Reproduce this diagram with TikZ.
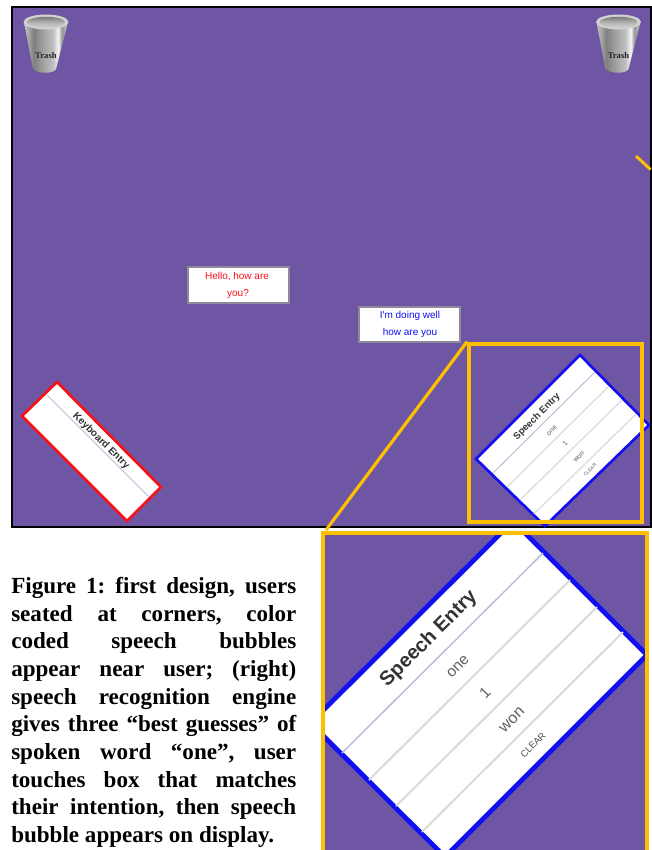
\documentclass[tikz,border=0pt]{standalone}
\usepackage{fontspec}
\setmainfont{Liberation Serif}
\newfontfamily\uisans{Liberation Sans}
\definecolor{panel}{HTML}{6F56A4}
\definecolor{gold}{HTML}{FFC000}
\definecolor{bluebox}{HTML}{1010F0}
\definecolor{redbox}{HTML}{F81018}
\definecolor{rulegrey}{HTML}{DADADA}
\definecolor{headrule}{HTML}{B8BED4}
\definecolor{bubbleedge}{HTML}{8E8A9C}
\pgfdeclarehorizontalshading{metal}{100bp}{
 color(0bp)=(black!22);color(25bp)=(black!22);color(29bp)=(black!32);color(36bp)=(black!50);
 color(48bp)=(black!35);color(58bp)=(black!25);color(64bp)=(black!3);color(68bp)=(black!42);
 color(72bp)=(black!30);color(75bp)=(black!12);color(100bp)=(black!12)}
\pgfdeclareverticalshading{rimshade}{100bp}{
 color(0bp)=(black!18);color(25bp)=(black!18);color(50bp)=(black!30);color(75bp)=(black!52);color(100bp)=(black!52)}
\tikzset{
 bubble/.style={draw=bubbleedge,line width=1.3pt,fill=white},
 uitext/.style={font=\uisans\fontsize{#1}{#1}\selectfont,text=black!62,inner sep=0pt},
 headtext/.style={font=\uisans\bfseries\fontsize{#1}{#1}\selectfont,text=black!80,inner sep=0pt},
 say/.style={font=\uisans\fontsize{7.5}{7.5}\selectfont,inner sep=0pt},
 zoomline/.style={draw=gold,line width=3.1pt},
 binlabel/.style={font=\bfseries\fontsize{6.5}{6.5}\selectfont,text=black!85,inner sep=0pt},
 thinrule/.style={draw=headrule,line width=0.8pt},
 thickrule/.style={draw=rulegrey,line width=1.5pt}
}
\newcommand{\trashcan}[3]{%
 \begin{scope}[shift={(#1,#2)}]
  \shade[shading=metal] (-22,0) -- (-13,47) .. controls (-8,52) and (8,52) .. (10,47) -- (22,0) -- cycle;
  \draw[fill=black!18,draw=none] (0,0) ellipse [x radius=22.5,y radius=7.5];
  \shade[shading=rimshade] (0,0.3) ellipse [x radius=19,y radius=5.5];
  \node[binlabel] (#3) at (0,34) {Trash};
 \end{scope}}
\begin{document}
\begin{tikzpicture}[x=0.75pt,y=-0.75pt]
\useasboundingbox (0,0) rectangle (652,850);
\fill[white] (0,0) rectangle (652,850);
\begin{scope}
\clip (0,0) rectangle (652,850);
% main display
\draw[fill=panel,draw=black,line width=0.8pt] (12,7) rectangle (651,527);
\trashcan{46}{22}{trashA}
\trashcan{618.5}{22}{trashB}
\coordinate (tickA) at (636,156);
\coordinate (tickB) at (650.5,169.5);
\draw[gold,line width=2.2pt] (tickA) -- (tickB);
% speech bubbles
\node[bubble,minimum width=76pt,minimum height=27pt,inner sep=0pt] (hello) at (238.5,285) {};
\node[say,text=redbox] (hello1) at (237,277) {Hello, how are};
\node[say,text=redbox] (hello2) at (238,294) {you?};
\node[bubble,minimum width=75.5pt,minimum height=26.5pt,inner sep=0pt] (doing) at (409.5,324.5) {};
\node[say,text=bluebox] (doing1) at (410,316) {I'm doing well};
\node[say,text=bluebox] (doing2) at (410,333) {how are you};
% keyboard entry
\draw[fill=white,draw=redbox,line width=2pt,line join=miter] (57,382) -- (161,487) -- (127,521) -- (22,416) -- cycle;
\coordinate (kbA) at (47,395);
\coordinate (kbB) at (149,497);
\draw[thinrule,line width=0.6pt] (kbA) -- (kbB);
\node[headtext=7.6,rotate=-45] (kbtitle) at (101,441) {Keyboard Entry};
% speech entry small
\draw[fill=white,draw=bluebox,line width=2pt,line join=miter] (580,355) -- (649,425) -- (545,526) -- (476,459) -- cycle;
\draw[thinrule,line width=0.7pt] (595,372) -- (493,473);
\draw[thickrule,line width=0.9pt] (608,387) -- (507,487);
\draw[thickrule,line width=0.9pt] (622,400) -- (520,500);
\draw[thickrule,line width=0.9pt] (636,414) -- (534,514);
\node[headtext=7.2,rotate=45] (setitle) at (537,417) {Speech Entry};
\node[uitext=5.2,rotate=45] (se1) at (552,431) {one};
\node[uitext=5.2,rotate=45] (se2) at (565,443) {1};
\node[uitext=5.2,rotate=45] (se3) at (579,457) {won};
\node[uitext=3.6,rotate=45] (se4) at (590,470) {CLEAR};
% callout
\node[draw=gold,line width=3pt,inner sep=0pt,minimum width=129.5pt,minimum height=133.5pt] (smallzoom) at (555.5,432.5) {};
\fill[panel] (323,533) rectangle (647,870);
\begin{scope}
 \clip (323,533) rectangle (647,870);
 \draw[fill=white,draw=bluebox,line width=3.6pt,line join=miter] (513,521) -- (647,655) -- (445,857) -- (310.5,723) -- cycle;
 \draw[thinrule,line width=1.1pt] (543,553) -- (342,753);
 \draw[thickrule] (570,580) -- (369,780);
 \draw[thickrule] (597,607) -- (396,806);
 \draw[thickrule] (623,632) -- (422,832);
 \node[headtext=15,rotate=45] (bigtitle) at (429,639) {Speech Entry};
 \node[uitext=11.5,rotate=45] (big1) at (458,667) {one};
 \node[uitext=11.5,rotate=45] (big2) at (485,693) {1};
 \node[uitext=12,rotate=45] (big3) at (512,720) {won};
 \node[uitext=7,rotate=45,text=black!70] (big4) at (533,745) {CLEAR};
\end{scope}
\draw[zoomline] (323,880) -- (323,533) -- (647,533) -- (647,880);
\coordinate (bigcorner) at (326,530);
\draw[gold,line width=2.4pt] (smallzoom.north west) -- (bigcorner);
% caption
\node[anchor=north west,inner sep=0pt,text width=213.75pt,align=justify,font=\bfseries\fontsize{17.3}{20.75}\selectfont] (caption) at (11,577)
 {\frenchspacing Figure 1: first design, users\linebreak
  seated at corners, color\linebreak
  coded speech bubbles\linebreak
  appear near user; (right)\linebreak
  speech recognition engine\linebreak
  gives three “best guesses” of\linebreak
  spoken word “one”, user\linebreak
  touches box that matches\linebreak
  their intention, then speech\linebreak
  bubble appears on display.\par};
\end{scope}
\end{tikzpicture}
\end{document}
